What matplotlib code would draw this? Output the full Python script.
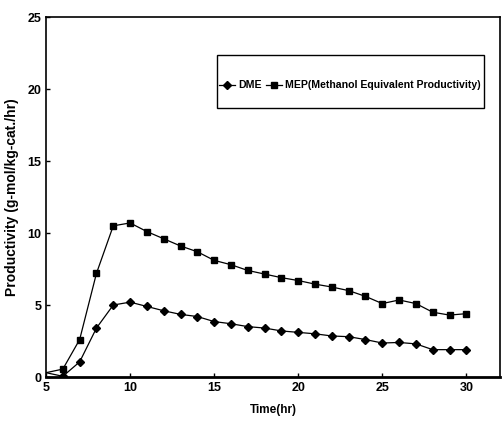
import matplotlib
matplotlib.use("Agg")
import matplotlib.pyplot as plt
from matplotlib.patches import Rectangle

plt.rcParams["font.family"] = ["Liberation Sans Narrow", "Liberation Sans", "DejaVu Sans"]
plt.rcParams["font.weight"] = "bold"

# ===================== DATA =====================
time_hr = [6, 7, 8, 9, 10, 11, 12, 13, 14, 15, 16, 17, 18,
           19, 20, 21, 22, 23, 24, 25, 26, 27, 28, 29, 30]
dme = [0.05, 1.05, 3.4, 5.0, 5.2, 4.9, 4.6, 4.35, 4.2, 3.85, 3.7, 3.5, 3.4,
       3.2, 3.1, 3.0, 2.85, 2.8, 2.6, 2.36, 2.4, 2.3, 1.9, 1.9, 1.9]
mep = [0.55, 2.6, 7.2, 10.5, 10.7, 10.1, 9.6, 9.1, 8.7, 8.1, 7.8, 7.4, 7.15,
       6.9, 6.7, 6.45, 6.25, 6.0, 5.6, 5.1, 5.35, 5.1, 4.5, 4.3, 4.4]
start_x = 5
start_y = 0.3

xticks = [5, 10, 15, 20, 25, 30]
yticks = [0, 5, 10, 15, 20, 25]

# ===================== FIGURE =====================
fig = plt.figure(figsize=(5.03, 4.26), dpi=100)
ax = fig.add_axes([0.0915, 0.115, 0.9025, 0.845])

ax.plot([start_x] + time_hr, [start_y] + dme, color="black", linewidth=0.9,
        marker="D", markersize=4, markevery=list(range(1, len(time_hr) + 1)),
        label="DME")
ax.plot([start_x] + time_hr, [start_y] + mep, color="black", linewidth=0.9,
        marker="s", markersize=5, markevery=list(range(1, len(time_hr) + 1)),
        label="MEP(Methanol Equivalent Productivity)")

ax.set_xlim(5, 32)
ax.set_ylim(0, 25)
ax.set_xticks(xticks)
ax.set_yticks(yticks)
ax.tick_params(direction="in", length=3, labelsize=9, width=1)
for lab in ax.get_xticklabels() + ax.get_yticklabels():
    lab.set_fontweight("bold")

for side in ["left", "bottom", "top", "right"]:
    ax.spines[side].set_linewidth(1.2)
ax.spines["bottom"].set_linewidth(2.0)

ax.set_xlabel("Time(hr)", fontsize=8.5, fontweight="bold", labelpad=7)
ax.set_ylabel("Productivity (g-mol/kg-cat./hr)", fontsize=10,
              fontweight="bold", labelpad=6)

# legend box drawn separately (wide vertical padding, tight horizontal)
ax.add_patch(Rectangle((0.377, 0.747), 0.588, 0.147, transform=ax.transAxes,
                       fill=False, edgecolor="black", linewidth=1.0, zorder=3))
ax.legend(loc="center left", bbox_to_anchor=(0.382, 0.81), ncol=2,
          fontsize=7.6, frameon=False, handlelength=1.5, handletextpad=0.25,
          columnspacing=0.45, borderpad=0, borderaxespad=0)

fig.savefig("out.png", dpi=100)
